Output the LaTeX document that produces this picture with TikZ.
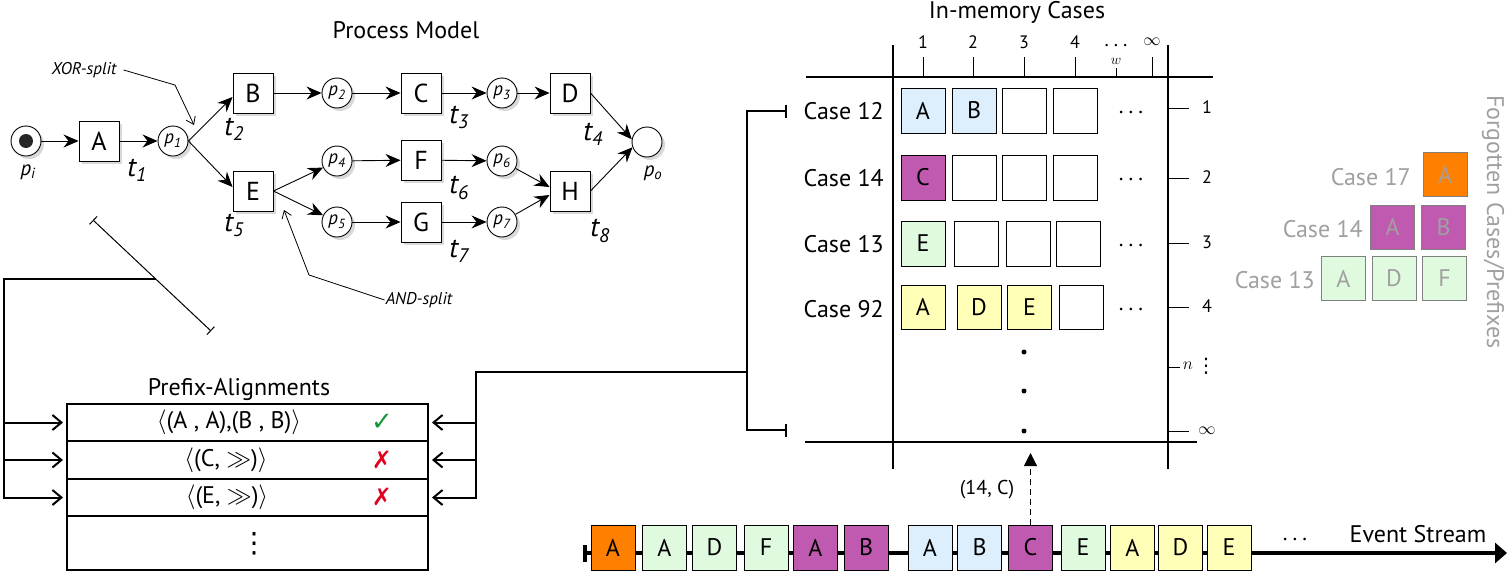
\documentclass[tikz,border=0pt]{standalone}
\usepackage{fontspec}
\setmainfont{PT Sans}
\newfontfamily\symfont{DejaVu Sans}
\usetikzlibrary{arrows.meta,shadows,calc}
\definecolor{orng}{RGB}{255,128,0}
\definecolor{mag}{RGB}{192,90,176}
\definecolor{lblue}{RGB}{221,238,252}
\definecolor{lgreen}{RGB}{224,250,224}
\definecolor{lyel}{RGB}{255,255,184}
\definecolor{fgray}{RGB}{160,160,160}
\definecolor{okgreen}{RGB}{20,150,60}
\definecolor{badred}{RGB}{225,0,30}
\newcommand{\fsz}[1]{\fontsize{#1}{#1}\selectfont}
\newcommand{\sdots}{.\kern5pt.\kern5pt.}
\begin{document}
\begin{tikzpicture}[x=1pt,y=-1pt,
  shd/.style={drop shadow={shadow xshift=3pt,shadow yshift=-3pt,fill=black!15,opacity=1}},
  tr/.style={draw,line width=0.9pt,fill=white,minimum width=40pt,minimum height=40pt,inner sep=0pt,font=\fsz{26},shd},
  pl/.style={circle,draw,line width=0.9pt,fill=white,minimum size=30pt,inner sep=0pt,font=\fsz{19}\itshape,shd},
  tl/.style={font=\fsz{28}\itshape,inner sep=0pt},
  pn/.style={line width=0.9pt,-{Stealth[length=15pt,width=13pt,inset=5pt]}},
  note/.style={font=\fsz{17}\itshape,inner sep=1pt},
  notearr/.style={line width=0.8pt,-{Straight Barb[length=7pt,width=10pt]}},
  ttl/.style={font=\fsz{24},anchor=base,inner sep=0pt},
  conn/.style={line width=2pt},
  oarr/.style={line width=2pt,-{Straight Barb[length=9pt,width=15pt]}},
  prow/.style={draw,line width=2pt,minimum width=361pt,inner sep=0pt},
  gridl/.style={line width=2.5pt},
  tick/.style={line width=1pt},
  cell/.style={draw,line width=1pt,minimum width=44pt,minimum height=45pt,inner sep=0pt,font=\fsz{24}},
  clab/.style={font=\fsz{24},anchor=east,inner sep=0pt},
  nlab/.style={font=\fsz{18},inner sep=0pt},
  fbox/.style={draw=black!50,line width=1pt,minimum width=44pt,minimum height=44pt,inner sep=0pt,font=\fsz{24},text=fgray},
  flab/.style={font=\fsz{24},anchor=east,inner sep=0pt,text=fgray},
  gdot/.style={circle,fill=black,minimum size=5pt,inner sep=0pt}]
\useasboundingbox (0,0) rectangle (1509,573);
\fill[white] (0,0) rectangle (1509,573);

% ---------------- Process model
\node[ttl] (pmt) at (406,38) {Process Model};
\node[pl] (pi) at (26,141) {};
\node[circle,fill=black!85,minimum size=14pt,inner sep=0pt] (tok) at (pi.center) {};
\node[tr] (A) at (99,141) {A};
\node[pl] (p1) at (173,141) {p\textsubscript{1}};
\node[tr] (B) at (253,93) {B};
\node[tr] (E) at (253,191) {E};
\node[pl] (p2) at (337,93) {p\textsubscript{2}};
\node[tr] (C) at (421,93) {C};
\node[pl] (p3) at (502,93) {p\textsubscript{3}};
\node[tr] (D) at (570,93) {D};
\node[pl] (p4) at (337,161) {p\textsubscript{4}};
\node[tr] (F) at (421,160) {F};
\node[pl] (p6) at (502,161) {p\textsubscript{6}};
\node[pl] (p5) at (337,222) {p\textsubscript{5}};
\node[tr] (G) at (421,222) {G};
\node[pl] (p7) at (502,222) {p\textsubscript{7}};
\node[tr] (H) at (570,191) {H};
\node[pl] (po) at (647,142) {};

\node[font=\fsz{21}\itshape] (pil) at (28,172) {p\textsubscript{i}};
\node[font=\fsz{21}\itshape] (pol) at (653,173) {p\textsubscript{o}};
\node[tl] (t1) at (137,170) {t\textsubscript{1}};
\node[tl] (t2) at (234,129) {t\textsubscript{2}};
\node[tl] (t3) at (459,117) {t\textsubscript{3}};
\node[tl] (t4) at (593,134) {t\textsubscript{4}};
\node[tl] (t5) at (234,225) {t\textsubscript{5}};
\node[tl] (t6) at (459,188) {t\textsubscript{6}};
\node[tl] (t7) at (459,251) {t\textsubscript{7}};
\node[tl] (t8) at (600,231) {t\textsubscript{8}};

\draw[pn] (pi) -- (A);
\draw[pn] (A) -- (p1);
\draw[pn] (p1.east) -- ([yshift=-4pt]B.west);
\draw[pn] (p1.east) -- ([yshift=4pt]E.west);
\draw[pn] (B) -- (p2);
\draw[pn] (p2) -- (C);
\draw[pn] (C) -- (p3);
\draw[pn] (p3) -- (D);
\draw[pn] (E.east) -- (p4);
\draw[pn] (E.east) -- (p5);
\draw[pn] (p4) -- (F);
\draw[pn] (F) -- (p6);
\draw[pn] (p5) -- (G);
\draw[pn] (G) -- (p7);
\draw[pn] (p6) -- ([yshift=4pt]H.west);
\draw[pn] (p7) -- ([yshift=-4pt]H.west);
\draw[pn] (D.east) -- (po.170);
\draw[pn] (H.east) -- (po.200);

\node[note] (xor) at (84,70) {XOR-split};
\coordinate (xorb) at (175,85);
\coordinate (xort) at (194,125);
\draw[notearr] ([xshift=6pt]xor.east) -- (xorb) -- (xort);
\node[note] (and) at (419,300) {AND-split};
\coordinate (andb) at (309,275);
\coordinate (andt) at (284,210);
\draw[notearr] (and.west) -- (andb) -- (andt);

% ---------------- left connector
\coordinate (d1) at (93,220);
\coordinate (d2) at (211,331);
\draw[line width=1pt,{Bar[width=11pt]}-{Bar[width=11pt]}] (d1) -- (d2);
\coordinate (lj) at ($(d1)!0.5315!(d2)$);
\coordinate (lc) at (4,279);

% ---------------- Prefix alignments
\node[ttl] (pat) at (239,395) {Prefix-Alignments};
\node[prow,minimum height=37pt] (r1) at (247.5,422.5) {};
\node[prow,minimum height=38pt] (r2) at (247.5,460) {};
\node[prow,minimum height=37pt] (r3) at (247.5,497.5) {};
\node[prow,minimum height=54pt] (r4) at (247.5,543) {};
\node[font=\fsz{24}] (a1) at (229,422) {$\langle$(A , A),(B , B)$\rangle$};
\node[font=\fsz{24}] (a2) at (226,460) {$\langle$(C, $\gg$)$\rangle$};
\node[font=\fsz{24}] (a3) at (227,497) {$\langle$(E, $\gg$)$\rangle$};
\node[font=\fsz{26}\symfont,text=okgreen] (ok) at (382,422) {✓};
\node[font=\fsz{24}\symfont,text=badred] (x1) at (382,460) {✗};
\node[font=\fsz{24}\symfont,text=badred] (x2) at (382,497) {✗};
\node[font=\fsz{28}\symfont] (vd) at (254,544) {⋮};

\draw[conn,oarr] (lj) -| (lc |- r3.west) -- ([xshift=-3pt]r3.west);
\draw[oarr] (lc |- r1.west) -- ([xshift=-3pt]r1.west);
\draw[oarr] (lc |- r2.west) -- ([xshift=-3pt]r2.west);

% ---------------- right connector (bracket)
\coordinate (bt) at (787,111);
\coordinate (bb) at (787,430);
\coordinate (bx) at (747,111);
\draw[conn,{Bar[width=13pt]}-{Bar[width=13pt]}] (bt) -- (bx) |- (bb);
\coordinate (bj) at (747,372);
\coordinate (rx) at (476,372);
\draw[conn,oarr] (bj) -- (rx) |- ([xshift=3pt]r3.east);
\draw[oarr] (rx |- r1.east) -- ([xshift=3pt]r1.east);
\draw[oarr] (rx |- r2.east) -- ([xshift=3pt]r2.east);

% ---------------- In-memory cases grid
\node[ttl] (imt) at (1017,18.5) {In-memory Cases};
\coordinate (gv1t) at (893,45);  \coordinate (gv1b) at (893,469);
\coordinate (gv2t) at (1168,45); \coordinate (gv2b) at (1168,469);
\coordinate (gh1l) at (806,77);  \coordinate (gh1r) at (1213,77);
\coordinate (gh2l) at (805,442); \coordinate (gh2r) at (1197,442);
\draw[gridl] (gv1t) -- (gv1b);
\draw[gridl] (gv2t) -- (gv2b);
\draw[gridl] (gh1l) -- (gh1r);
\draw[gridl] (gh2l) -- (gh2r);

\node[nlab] (c1) at (923,42) {1};
\node[nlab] (c2) at (973,42) {2};
\node[nlab] (c3) at (1024,42) {3};
\node[nlab] (c4) at (1075,42) {4};
\node[font=\fsz{20},inner sep=0pt] (cd) at (1116,46) {\sdots};
\node[font=\fsz{14},inner sep=0pt] (cw) at (1116,61) {$w$};
\node[nlab] (ci) at (1152,42) {$\infty$};
\draw[tick] (923,57) -- (923,77);
\draw[tick] (973,57) -- (973,77);
\draw[tick] (1024,57) -- (1024,77);
\draw[tick] (1075,57) -- (1075,77);
\draw[tick] (1116,68) -- (1116,77);
\draw[tick] (1152,57) -- (1152,77);

\node[clab] (k12) at (884,111) {Case 12};
\node[clab] (k14) at (884,178) {Case 14};
\node[clab] (k13) at (884,244) {Case 13};
\node[clab] (k92) at (884,309) {Case 92};

\node[cell,fill=lblue] (m11) at (923,110.5) {A};
\node[cell,fill=lblue] (m12) at (974,110.5) {B};
\node[cell] (m13) at (1024.5,110.5) {};
\node[cell] (m14) at (1075,110.5) {};
\node[cell,fill=mag] (m21) at (923,177.5) {C};
\node[cell] (m22) at (974,177.5) {};
\node[cell] (m23) at (1024.5,177.5) {};
\node[cell] (m24) at (1075,177.5) {};
\node[cell,fill=lgreen] (m31) at (923,243.5) {E};
\node[cell] (m32) at (976.5,243.5) {};
\node[cell] (m33) at (1028,243.5) {};
\node[cell] (m34) at (1078.5,243.5) {};
\node[cell,fill=lyel,minimum height=44pt] (m41) at (923,307) {A};
\node[cell,fill=lyel,minimum height=44pt] (m42) at (979,307) {D};
\node[cell,fill=lyel,minimum height=44pt] (m43) at (1029.5,307) {E};
\node[cell,minimum height=44pt] (m44) at (1081,307) {};
\node[font=\fsz{22},inner sep=0pt] (e1) at (1131,112) {\sdots};
\node[font=\fsz{22},inner sep=0pt] (e2) at (1131,179) {\sdots};
\node[font=\fsz{22},inner sep=0pt] (e3) at (1131,245) {\sdots};
\node[font=\fsz{22},inner sep=0pt] (e4) at (1131,309) {\sdots};

\node[gdot] (gd1) at (1024,352) {};
\node[gdot] (gd2) at (1024,391) {};
\node[gdot] (gd3) at (1024,431) {};

\draw[tick] (1168,108) -- (1189,108);
\draw[tick] (1168,178) -- (1189,178);
\draw[tick] (1168,243) -- (1189,243);
\draw[tick] (1168,307) -- (1189,307);
\draw[tick] (1168,367) -- (1180,367);
\draw[tick] (1168,431) -- (1189,431);
\node[nlab] (q1) at (1207,107) {1};
\node[nlab] (q2) at (1207,177) {2};
\node[nlab] (q3) at (1207,242) {3};
\node[nlab] (q4) at (1207,306) {4};
\node[font=\fsz{18},inner sep=0pt] (qn) at (1188,366) {$n$};
\node[font=\fsz{20}\symfont,inner sep=0pt] (qv) at (1206,366) {⋮};
\node[nlab] (qi) at (1207,431) {$\infty$};

% ---------------- Forgotten cases
\node[fbox,fill=orng] (f17a) at (1445,174.5) {A};
\node[flab] (f17) at (1411,177) {Case 17};
\node[fbox,fill=mag] (f14a) at (1392.5,227) {A};
\node[fbox,fill=mag] (f14b) at (1443.5,227) {B};
\node[flab] (f14) at (1363,229) {Case 14};
\node[fbox,fill=lgreen] (f13a) at (1343.5,278.5) {A};
\node[fbox,fill=lgreen] (f13d) at (1394,278.5) {D};
\node[fbox,fill=lgreen] (f13f) at (1444.5,278.5) {F};
\node[flab] (f13) at (1315,280) {Case 13};
\node[font=\fsz{24},text=fgray,rotate=-90,inner sep=0pt] (fg) at (1493,222) {Forgotten Cases/Prefixes};

% ---------------- Event stream
\coordinate (ss) at (583,553);
\coordinate (se) at (1507,553);
\draw[line width=4pt,{Bar[width=17pt]}-{Triangle[length=12pt,width=20pt]}] (ss) -- (se);
\node[cell,fill=orng] (s1) at (613,547.5) {A};
\node[cell,fill=lgreen] (s2) at (664.5,547.5) {A};
\node[cell,fill=lgreen] (s3) at (714.5,547.5) {D};
\node[cell,fill=lgreen] (s4) at (766,547.5) {F};
\node[cell,fill=mag] (s5) at (815.5,547.5) {A};
\node[cell,fill=mag] (s6) at (866,547.5) {B};
\node[cell,fill=lblue] (s7) at (930,547.5) {A};
\node[cell,fill=lblue] (s8) at (979.5,547.5) {B};
\node[cell,fill=mag] (s9) at (1030.5,547.5) {C};
\node[cell,fill=lgreen] (s10) at (1083,547.5) {E};
\node[cell,fill=lyel] (s11) at (1132.5,547.5) {A};
\node[cell,fill=lyel] (s12) at (1180.5,547.5) {D};
\node[cell,fill=lyel] (s13) at (1229,547.5) {E};
\node[font=\fsz{22},inner sep=0pt] (sd) at (1295,539) {\sdots};
\node[ttl] (est) at (1418,542) {Event Stream};

\coordinate (evt) at (1030.5,453);
\draw[line width=1pt,dash pattern=on 6pt off 4pt,-{Triangle[length=13pt,width=13pt]}] (s9.north) -- (evt);
\node[font=\fsz{20}] (evl) at (987,490) {(14, C)};
\end{tikzpicture}
\end{document}
